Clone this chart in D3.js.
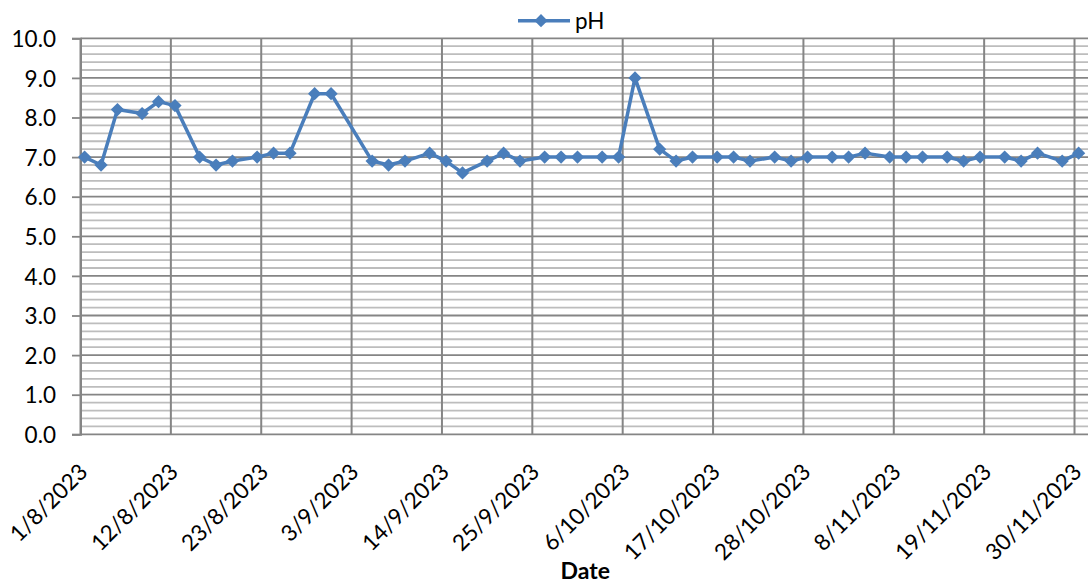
<!DOCTYPE html>
<html>
<head>
<meta charset="utf-8">
<script src="https://cdn.jsdelivr.net/npm/d3@7"></script>
<style>
  html, body { margin: 0; padding: 0; background: #fff; }
  svg { display: block; }
  text { font-family: Lato, "Open Sans", sans-serif; fill: #000; }
</style>
</head>
<body>
<svg id="chart" width="1088" height="586"></svg>
<script>
// ---- data ----
const dates = [
  "2023-08-01","2023-08-03","2023-08-05","2023-08-08","2023-08-10","2023-08-12",
  "2023-08-15","2023-08-17","2023-08-19","2023-08-22","2023-08-24","2023-08-26",
  "2023-08-29","2023-08-31","2023-09-05","2023-09-07","2023-09-09","2023-09-12",
  "2023-09-14","2023-09-16","2023-09-19","2023-09-21","2023-09-23","2023-09-26",
  "2023-09-28","2023-09-30","2023-10-03","2023-10-05","2023-10-07","2023-10-10",
  "2023-10-12","2023-10-14","2023-10-17","2023-10-19","2023-10-21","2023-10-24",
  "2023-10-26","2023-10-28","2023-10-31","2023-11-02","2023-11-04","2023-11-07",
  "2023-11-09","2023-11-11","2023-11-14","2023-11-16","2023-11-18","2023-11-21",
  "2023-11-23","2023-11-25","2023-11-28","2023-11-30"
];
const pH = [
  7.0, 6.8, 8.2, 8.1, 8.4, 8.3,
  7.0, 6.8, 6.9, 7.0, 7.1, 7.1,
  8.6, 8.6, 6.9, 6.8, 6.9, 7.1,
  6.9, 6.6, 6.9, 7.1, 6.9, 7.0,
  7.0, 7.0, 7.0, 7.0, 9.0, 7.2,
  6.9, 7.0, 7.0, 7.0, 6.9, 7.0,
  6.9, 7.0, 7.0, 7.0, 7.1, 7.0,
  7.0, 7.0, 7.0, 6.9, 7.0, 7.0,
  6.9, 7.1, 6.9, 7.1
];
const xTickDates = [
  "2023-08-01","2023-08-12","2023-08-23","2023-09-03","2023-09-14","2023-09-25",
  "2023-10-06","2023-10-17","2023-10-28","2023-11-08","2023-11-19","2023-11-30"
];
const yTicks = [0,1,2,3,4,5,6,7,8,9,10];
const yMinorTicks = d3.range(0, 50).map(i => i * 0.2).filter(v => Math.abs(v - Math.round(v)) > 1e-6);
const seriesName = "pH";
const xTitle = "Date";

// ---- layout ----
const plotL = 80.5, plotR = 1088, plotT = 38.3, plotB = 434.3;
const dayPx = 8.215;
const parse = d3.utcParse("%Y-%m-%d");
const fmt = d3.utcFormat("%-d/%-m/%Y");
const d0 = parse("2023-08-01");
const d1 = d3.utcDay.offset(d0, 122);

const x = d3.scaleUtc().domain([d0, d1]).range([plotL, plotL + 122 * dayPx]);
const y = d3.scaleLinear().domain([0, 10]).range([plotB, plotT]);

const svg = d3.select("#chart");
const lineColor = "#4a7ebb";

// minor horizontal gridlines
svg.append("g").selectAll("line").data(yMinorTicks).join("line")
  .attr("x1", plotL).attr("x2", plotR)
  .attr("y1", d => y(d)).attr("y2", d => y(d))
  .attr("stroke", "#bdbdbd").attr("stroke-width", 1.8);

// major horizontal gridlines
svg.append("g").selectAll("line").data(yTicks).join("line")
  .attr("x1", plotL).attr("x2", plotR)
  .attr("y1", d => y(d)).attr("y2", d => y(d))
  .attr("stroke", "#858585").attr("stroke-width", 1.8);

// vertical gridlines
const tickDates = xTickDates.map(parse);
svg.append("g").selectAll("line").data(tickDates).join("line")
  .attr("x1", d => x(d)).attr("x2", d => x(d))
  .attr("y1", plotT).attr("y2", plotB)
  .attr("stroke", "#858585").attr("stroke-width", 2);

// y axis
const yAxis = svg.append("g").attr("transform", `translate(${plotL},0)`)
  .call(d3.axisLeft(y).tickValues(yTicks).tickFormat(d3.format(".1f")).tickSize(8.5).tickPadding(16));
yAxis.select(".domain").attr("stroke", "#858585").attr("stroke-width", 2);
yAxis.selectAll(".tick line").attr("stroke", "#858585").attr("stroke-width", 1.8);
yAxis.selectAll("text").attr("font-size", 22.5).attr("font-family", "Lato").attr("fill", "#000").attr("dy", "0.36em");

// x axis labels
const xAxis = svg.append("g").attr("transform", `translate(0,${plotB})`)
  .call(d3.axisBottom(x).tickValues(tickDates).tickFormat(fmt).tickSize(0));
xAxis.select(".domain").remove();
xAxis.selectAll("text")
  .attr("font-size", 22.5).attr("font-family", "Lato").attr("fill", "#000")
  .attr("x", 0).attr("y", 0).attr("dy", 0)
  .attr("text-anchor", "end")
  .attr("transform", "translate(8,39) rotate(-45)");

// x title
svg.append("text").attr("x", (plotL + plotR) / 2 + 1).attr("y", 579)
  .attr("text-anchor", "middle").attr("font-size", 23).attr("font-weight", "bold")
  .text(xTitle);

// series
const pts = dates.map((d, i) => ({ date: d3.utcHour.offset(parse(d), 12), v: pH[i] }));
svg.append("path").datum(pts)
  .attr("fill", "none").attr("stroke", lineColor).attr("stroke-width", 3.5)
  .attr("stroke-linejoin", "round")
  .attr("d", d3.line().x(d => x(d.date)).y(d => y(d.v)));

const diamond = d3.symbol().type(d3.symbolSquare).size(88);
svg.append("g").selectAll("path").data(pts).join("path")
  .attr("d", diamond)
  .attr("fill", lineColor)
  .attr("transform", d => `translate(${x(d.date)},${y(d.v)}) rotate(45)`);

// legend
const lg = svg.append("g");
lg.append("line").attr("x1", 518).attr("x2", 570).attr("y1", 20.7).attr("y2", 20.7)
  .attr("stroke", lineColor).attr("stroke-width", 3.5);
lg.append("path").attr("d", diamond).attr("fill", lineColor)
  .attr("transform", "translate(541,20.7) rotate(45)");
lg.append("text").attr("x", 575).attr("y", 29).attr("font-size", 22.5).text(seriesName);
</script>
</body>
</html>
